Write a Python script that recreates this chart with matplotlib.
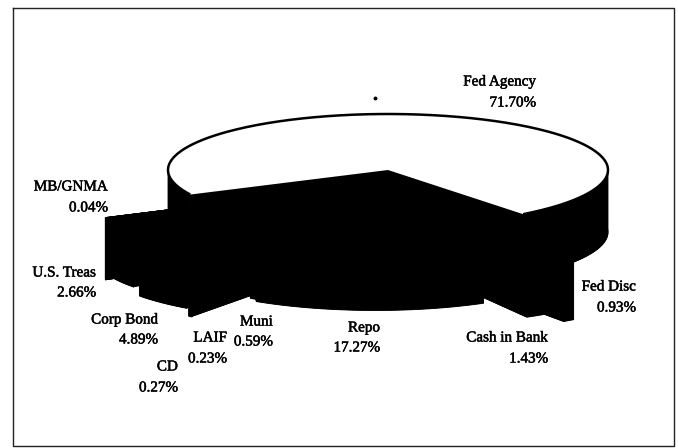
import numpy as np
import matplotlib
matplotlib.use("Agg")
import matplotlib.pyplot as plt
import matplotlib.patheffects as pe

# slices, clockwise from the white one
names = ["Fed Agency", "Fed Disc", "Cash in Bank", "Repo", "Muni", "LAIF", "CD",
         "Corp Bond", "U.S. Treas", "MB/GNMA"]
shares = [71.70, 0.93, 1.43, 17.27, 0.59, 0.23, 0.27, 4.89, 2.66, 0.04]

# how far each slice is pulled out of the pie (pixels)
pull_x = [0, 50, 30, -13, -12, -40, -68, -70, -76, -85]
pull_y = [0, 43, 36, 22, 20, 27, 39, 31, 22, 23]

# label anchor (right edge, first line y, second line y)
label_x = [536, 636, 548, 380, 273, 227, 178, 158, 96, 108]
label_y1 = [82, 287, 338, 328, 322, 338, 367, 320, 273, 187]
label_y2 = [103, 308, 359, 348, 342, 359, 388, 340, 293, 208]

cx, cy = 388, 170
rx, ry = 220, 56
depth = 62
start_angle = 206


def outer(t, dx=0, dy=0):
    return cx + rx * np.cos(np.radians(t)) + dx, cy - ry * np.sin(np.radians(t)) + dy


def draw_slice(ax, a1, a2, dx, dy):
    t = np.linspace(a1, a2, max(int(abs(a2 - a1) * 2), 3))
    x, y = outer(t, dx, dy)
    ax0, ay0 = cx + dx, cy + dy
    # top, bottom, front wall, two cut walls
    ax.fill(np.r_[ax0, x], np.r_[ay0, y], color="black", lw=0.6)
    ax.fill(np.r_[ax0, x], np.r_[ay0, y] + depth, color="black", lw=0.6)
    front = np.sin(np.radians(t)) <= 0
    ax.fill_between(x, y, y + depth, where=front, color="black", lw=0.6)
    for i in (0, -1):
        ax.fill([ax0, x[i], x[i], ax0],
                [ay0, y[i], y[i] + depth, ay0 + depth], color="black", lw=0.6)


fig = plt.figure(figsize=(6.78, 4.48), dpi=100)
ax = fig.add_axes([0, 0, 1, 1])
ax.set_xlim(0, 678)
ax.set_ylim(448, 0)
ax.axis("off")

edges = start_angle - np.cumsum([0] + shares) * 360 / sum(shares)

for i in range(len(shares)):
    draw_slice(ax, edges[i], edges[i + 1], pull_x[i], pull_y[i])

# top of the big slice stays white
t = np.linspace(edges[0], edges[1], 300)
x, y = outer(t)
ax.fill(np.r_[cx, x], np.r_[cy, y], color="white", lw=0)
ax.plot(x, y, color="black", lw=1.8, solid_capstyle="butt")

heavy = [pe.withStroke(linewidth=0.35, foreground="black")]
for i in range(len(names)):
    ax.text(label_x[i], label_y1[i], names[i], ha="right", va="center",
            family="Liberation Serif", fontsize=10.9, color="black", path_effects=heavy)
    ax.text(label_x[i], label_y2[i], f"{shares[i]:.2f}%", ha="right", va="center",
            family="Liberation Serif", fontsize=10.9, color="black", path_effects=heavy)

# speck and the page frame from the scan
ax.plot([375], [98], "o", color="black", ms=1.8)
ax.plot([13, 674, 674, 13, 13], [8, 8, 446, 446, 8], color="#222222", lw=1)

fig.savefig("out.png", dpi=100)
